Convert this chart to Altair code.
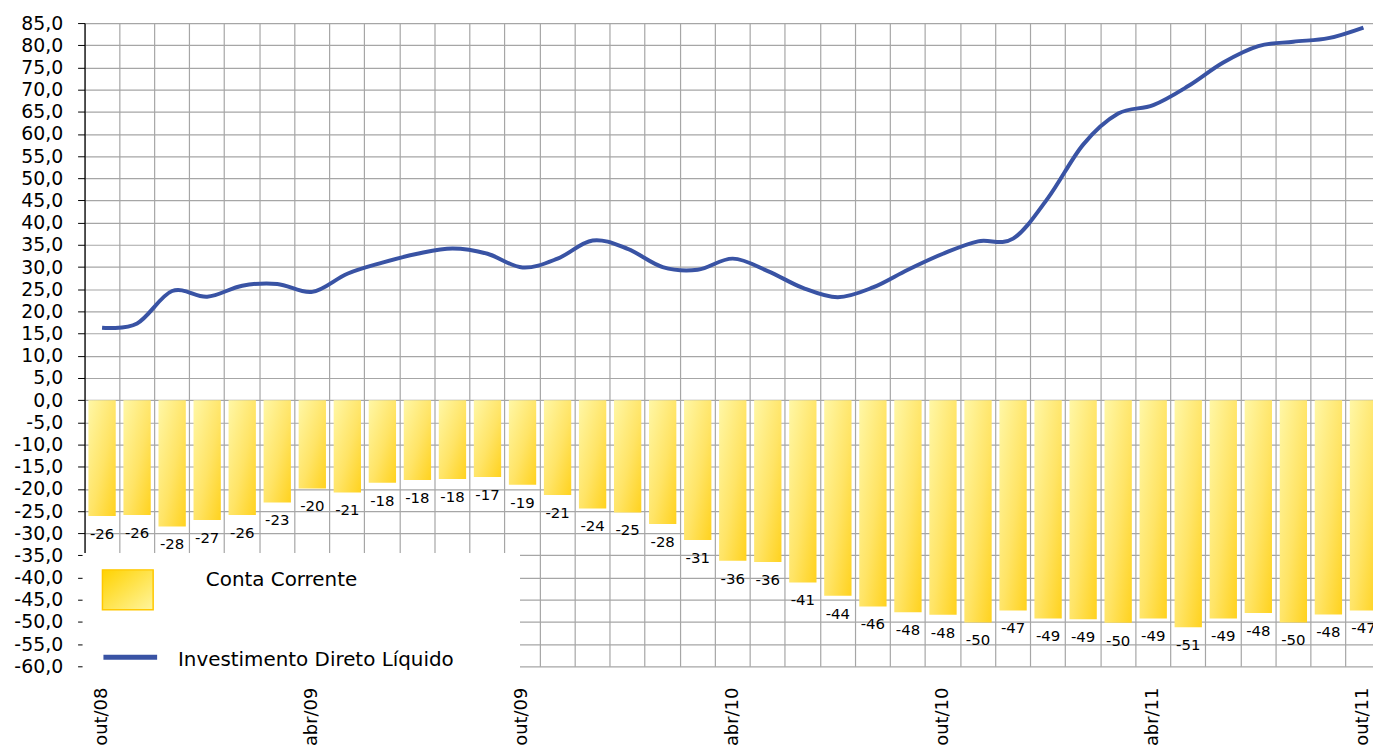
import altair as alt
import pandas as pd

# ---- data -------------------------------------------------------------
meses = ["out/08", "nov/08", "dez/08", "jan/09", "fev/09", "mar/09", "abr/09",
         "mai/09", "jun/09", "jul/09", "ago/09", "set/09", "out/09", "nov/09",
         "dez/09", "jan/10", "fev/10", "mar/10", "abr/10", "mai/10", "jun/10",
         "jul/10", "ago/10", "set/10", "out/10", "nov/10", "dez/10", "jan/11",
         "fev/11", "mar/11", "abr/11", "mai/11", "jun/11", "jul/11", "ago/11",
         "set/11", "out/11"]

conta_corrente = [-26.1, -25.9, -28.5, -27.0, -25.9, -23.1, -19.9, -20.8, -18.6,
                  -18.0, -17.8, -17.3, -19.1, -21.4, -24.4, -25.3, -27.9, -31.5,
                  -36.2, -36.5, -41.1, -44.1, -46.5, -47.8, -48.4, -50.1, -47.4,
                  -49.2, -49.4, -50.2, -49.2, -51.2, -49.2, -48.0, -50.1, -48.3,
                  -47.4]

rotulos_cc = ["-26", "-26", "-28", "-27", "-26", "-23", "-20", "-21", "-18",
              "-18", "-18", "-17", "-19", "-21", "-24", "-25", "-28", "-31",
              "-36", "-36", "-41", "-44", "-46", "-48", "-48", "-50", "-47",
              "-49", "-49", "-50", "-49", "-51", "-49", "-48", "-50", "-48",
              "-47"]

investimento_direto = [16.3, 17.3, 24.6, 23.3, 25.8, 26.2, 24.4, 28.5, 31.0,
                       33.0, 34.2, 33.0, 29.9, 31.9, 36.0, 34.1, 30.0, 29.4,
                       31.9, 29.1, 25.3, 23.2, 25.4, 29.4, 33.0, 35.8, 36.4,
                       45.6, 57.6, 64.6, 66.5, 70.8, 76.1, 79.8, 80.8, 81.6,
                       84.0]

y_ticks = [-60, -55, -50, -45, -40, -35, -30, -25, -20, -15, -10, -5, 0, 5, 10,
           15, 20, 25, 30, 35, 40, 45, 50, 55, 60, 65, 70, 75, 80, 85]
x_label_meses = ["out/08", "abr/09", "out/09", "abr/10", "out/10", "abr/11", "out/11"]

legenda_itens = ["Conta Corrente", "Investimento Direto Líquido"]

df = pd.DataFrame({
    "mes": meses,
    "cc": conta_corrente,
    "rot": rotulos_cc,
    "idl": investimento_direto,
})

FONT = "DejaVu Sans"
W, H = 1304, 647

x_scale = alt.Scale(paddingInner=0, paddingOuter=0)
x_axis = alt.Axis(
    title=None,
    bandPosition=0,
    labelAngle=270,
    labelFontSize=18,
    labelFont=FONT,
    labelColor="#000000",
    labelPadding=21,
    labelOverlap=False,
    labelExpr="indexof(" + str(x_label_meses) + ", datum.value) >= 0 ? datum.value : ''",
    ticks=False,
    tickSize=0,
    domain=False,
    grid=True,
    gridColor="#A6A6A6",
    gridWidth=1.2,
)

y_scale = alt.Scale(domain=[-60, 85], nice=False, zero=False)
y_axis = alt.Axis(
    title=None,
    values=y_ticks,
    format=".1f",
    labelOverlap=False,
    labelFontSize=19,
    labelFont=FONT,
    labelColor="#000000",
    labelPadding=15,
    tickSize=7,
    tickColor="#000000",
    domainColor="#000000",
    domainWidth=1.2,
    grid=True,
    gridColor="#A6A6A6",
    gridWidth=1.2,
)


def X():
    return alt.X("mes:N", sort=meses, scale=x_scale, axis=x_axis)


def Y(field):
    return alt.Y(field, scale=y_scale, axis=y_axis)


grad_barra = alt.Gradient(
    gradient="linear",
    stops=[alt.GradientStop(color="#FFF7A6", offset=0),
           alt.GradientStop(color="#FFE466", offset=0.55),
           alt.GradientStop(color="#FFD21E", offset=1)],
    x1=0, y1=0, x2=1, y2=1,
)
grad_legenda = alt.Gradient(
    gradient="linear",
    stops=[alt.GradientStop(color="#FFD200", offset=0),
           alt.GradientStop(color="#FFF59C", offset=1)],
    x1=0, y1=0, x2=1, y2=1,
)

base = alt.Chart(df)

barras = base.mark_bar(color=grad_barra, width=alt.RelativeBandSize(0.78)).encode(
    x=X(),
    y=Y("cc:Q"),
)

rotulos = base.mark_text(
    font=FONT, fontSize=15, color="#000000", baseline="middle", align="center", dy=18
).encode(
    x=X(),
    y=Y("cc:Q"),
    text="rot:N",
)

linha = base.mark_line(color="#3953A4", strokeWidth=4, interpolate="cardinal").encode(
    x=X(),
    y=Y("idl:Q"),
)

# ---- legend (drawn as a white box over the lower-left corner) ----------
leg_df = pd.DataFrame({"a": [0]})
leg_box = alt.Chart(leg_df).mark_rect(fill="#FFFFFF").encode(
    x=alt.value(-2), x2=alt.value(438), y=alt.value(533), y2=alt.value(650)
)
leg_sq = alt.Chart(leg_df).mark_rect(fill=grad_legenda, stroke="#FFC800", strokeWidth=1.5).encode(
    x=alt.value(18), x2=alt.value(69), y=alt.value(550), y2=alt.value(590)
)
leg_t1 = alt.Chart(pd.DataFrame({"t": [legenda_itens[0]]})).mark_text(
    font=FONT, fontSize=20, color="#000000", align="left", baseline="middle"
).encode(x=alt.value(122), y=alt.value(560), text="t:N")
leg_ln = alt.Chart(leg_df).mark_rule(color="#3953A4", strokeWidth=5).encode(
    x=alt.value(19), x2=alt.value(73), y=alt.value(638)
)
leg_t2 = alt.Chart(pd.DataFrame({"t": [legenda_itens[1]]})).mark_text(
    font=FONT, fontSize=20, color="#000000", align="left", baseline="middle"
).encode(x=alt.value(94), y=alt.value(641), text="t:N")

chart = alt.layer(barras, rotulos, linha, leg_box, leg_sq, leg_t1, leg_ln, leg_t2).properties(
    width=W,
    height=H,
    autosize=alt.AutoSizeParams(type="none"),
    padding={"left": 77, "top": 13, "right": -8, "bottom": 79},
).configure(
    locale=alt.Locale(number=alt.NumberLocale(
        decimal=",", thousands=".", grouping=[3], currency=["R$ ", ""], minus="-"))
).configure_view(
    stroke=None
)

chart.save("out.html", embed_options={"renderer": "svg", "actions": False})
